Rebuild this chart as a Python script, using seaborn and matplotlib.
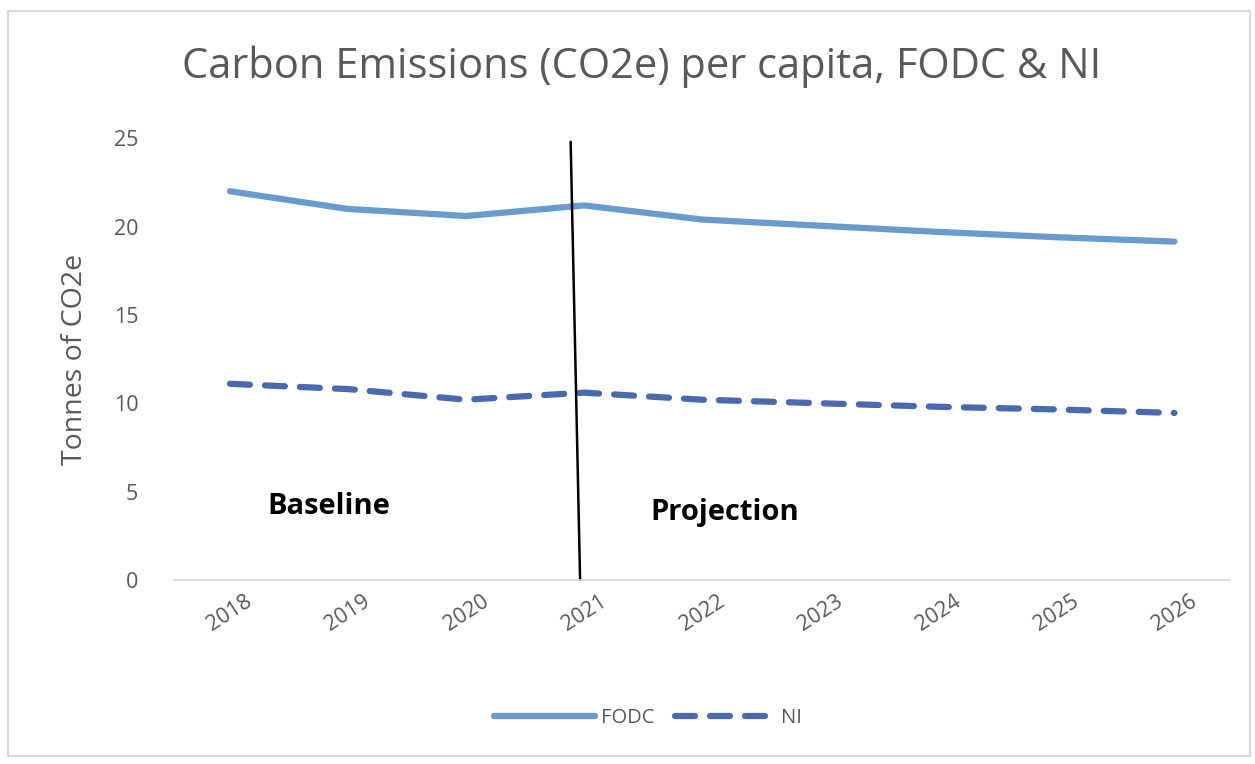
import matplotlib
matplotlib.use("Agg")
import matplotlib.pyplot as plt
import seaborn as sns
import pandas as pd

years = ["2018", "2019", "2020", "2021", "2022", "2023", "2024", "2025", "2026"]
fodc = [22.0, 21.0, 20.6, 21.2, 20.4, 20.05, 19.7, 19.4, 19.15]
ni = [11.1, 10.8, 10.2, 10.6, 10.2, 10.0, 9.8, 9.65, 9.45]

df = pd.DataFrame({"pos": range(len(years)), "year": years, "FODC": fodc, "NI": ni})

sns.set_style("white")
plt.rcParams["font.family"] = ["Open Sans", "DejaVu Sans"]

fig = plt.figure(figsize=(12.55, 7.64), dpi=100)
ax = fig.add_axes([0.139, 0.241, 0.841, 0.578])

sns.lineplot(data=df, x="pos", y="FODC", ax=ax, color="#6A9BCF", linewidth=4.5,
             label="FODC", solid_capstyle="round")
sns.lineplot(data=df, x="pos", y="NI", ax=ax, color="#4A6AB0", linewidth=4.5,
             label="NI", dash_capstyle="round")
ax.lines[1].set_dashes([3.2, 2.4])

ax.set_xlim(-0.47, len(years) - 1 + 0.47)
ax.set_ylim(0, 25)
ax.set_yticks([0, 5, 10, 15, 20, 25])
ax.set_xticks(df["pos"])
ax.set_xticklabels(years, rotation=33, color="#595959", fontsize=15.5)
ax.tick_params(axis="y", labelcolor="#595959", labelsize=15.5, length=0, pad=26)
ax.tick_params(axis="x", length=0, pad=8)
ax.set_xlabel("")
ax.set_ylabel("Tonnes of CO2e", color="#595959", fontsize=20.5, labelpad=18)

for side in ["top", "right", "left"]:
    ax.spines[side].set_visible(False)
ax.spines["bottom"].set_color("#D9D9D9")
ax.spines["bottom"].set_linewidth(1.2)

# divider between baseline and projection
ax.plot([2.886, 2.966], [24.8, 0], color="black", linewidth=1.8, clip_on=False)
ax.text(0.32, 4.15, "Baseline", fontsize=21, fontweight="bold", color="black", va="center")
ax.text(3.56, 3.8, "Projection", fontsize=21, fontweight="bold", color="black", va="center")

fig.suptitle("Carbon Emissions (CO2e) per capita, FODC & NI", x=0.511, y=0.94,
             fontsize=30, color="#595959")

leg = ax.legend(loc="center", bbox_to_anchor=(0.449, -0.312), ncol=2, frameon=False,
                fontsize=14.5, handlelength=5, columnspacing=1.0, handletextpad=0.3)
for t in leg.get_texts():
    t.set_color("#595959")

fig.patches.append(plt.Rectangle((0.006, 0.01), 0.99, 0.975, transform=fig.transFigure,
                                 fill=False, edgecolor="#D9D9D9", linewidth=1.5))

fig.savefig("out.png", dpi=100)
